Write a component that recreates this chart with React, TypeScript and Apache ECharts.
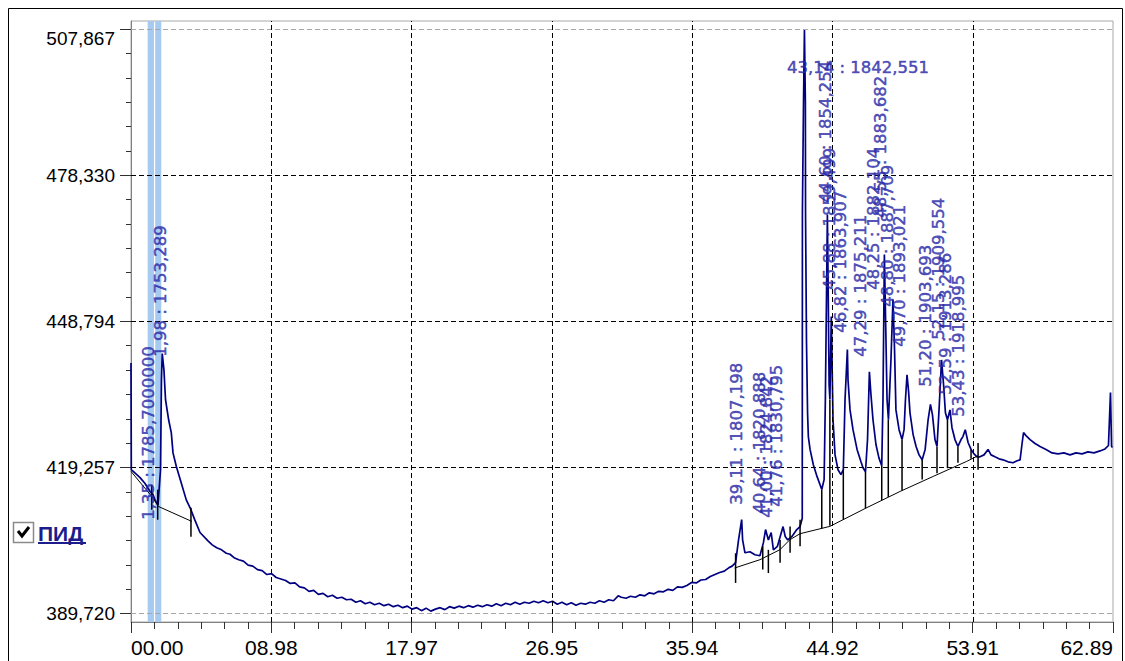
import React, { useEffect, useRef } from "react";
import * as echarts from "echarts";

// ---- axes ----
const xInterval = 8.9845;
const xMax = 62.8915;
const yMin = 388.0;
const yMax = 509.55;
const yMajorTicks = [389.72, 419.257, 448.794, 478.33, 507.867];
const yGridBlack = [419.257, 448.794, 478.33];
const yGridGray = [389.72, 507.867];
const xGridValues = [8.9845, 17.969, 26.9535, 35.938, 44.9225, 53.907];

// ---- highlighted bands (min) ----
const bandStart = [1.07, 1.55];
const bandEnd = [1.47, 1.94];

// ---- detector signal ----
const signalT = [
  0.0, 0.02, 0.3, 0.58, 0.9, 1.22, 1.4, 1.54, 1.73, 1.89, 1.95, 2.0, 2.11, 2.21, 2.41, 2.58, 2.69, 2.9, 3.22, 3.54, 3.8, 4.08, 4.42, 4.93, 5.2, 5.49,
  5.8, 6.1, 6.34, 6.6, 6.9, 7.2, 7.5, 7.8, 8.1, 8.4, 8.7, 9.0, 9.3, 9.6, 9.9, 10.2, 10.5, 10.8, 11.1, 11.4, 11.7, 12.0, 12.3, 12.6, 12.9, 13.2, 13.5,
  13.8, 14.1, 14.4, 14.7, 15.0, 15.3, 15.6, 15.9, 16.2, 16.5, 16.8, 17.1, 17.4, 17.7, 18.0, 18.3, 18.6, 18.9, 19.2, 19.5, 19.8, 20.1, 20.4, 20.7,
  21.0, 21.3, 21.6, 21.9, 22.2, 22.5, 22.8, 23.1, 23.4, 23.7, 24.0, 24.3, 24.6, 24.9, 25.2, 25.5, 25.8, 26.1, 26.4, 26.7, 27.0, 27.3, 27.6, 27.9,
  28.2, 28.5, 28.8, 29.1, 29.4, 29.7, 30.0, 30.3, 30.6, 30.9, 31.2, 31.4, 31.7, 32.0, 32.3, 32.6, 32.9, 33.2, 33.5, 33.8, 34.1, 34.4, 34.7, 35.0,
  35.3, 35.6, 35.9, 36.2, 36.5, 36.8, 37.1, 37.4, 37.7, 38.0, 38.3, 38.5, 38.72, 38.91, 39.11, 39.17, 39.32, 39.64, 39.96, 40.28, 40.5, 40.64,
  40.82, 41.0, 41.14, 41.4, 41.76, 41.9, 42.06, 42.33, 42.64, 42.85, 42.99, 43.0, 43.07, 43.13, 43.19, 43.2, 43.26, 43.33, 43.38, 43.49, 43.7,
  43.94, 44.24, 44.39, 44.47, 44.6, 44.66, 44.71, 44.76, 44.85, 44.96, 45.09, 45.28, 45.47, 45.62, 45.73, 45.88, 45.92, 46.05, 46.24, 46.5,
  46.75, 46.88, 47.04, 47.17, 47.29, 47.39, 47.52, 47.71, 47.9, 48.08, 48.16, 48.25, 48.34, 48.42, 48.51, 48.67, 48.8, 48.9, 48.99, 49.19,
  49.38, 49.51, 49.6, 49.7, 49.8, 49.89, 50.09, 50.28, 50.47, 50.67, 50.86, 51.05, 51.2, 51.33, 51.49, 51.62, 51.75, 51.91, 52.04, 52.16,
  52.29, 52.45, 52.58, 52.77, 52.96, 53.16, 53.28, 53.43, 53.61, 53.8, 53.99, 54.18, 54.37, 54.63, 54.89, 55.08, 55.33, 55.59, 55.85, 56.17,
  56.49, 56.75, 56.94, 57.06, 57.16, 57.32, 57.58, 57.9, 58.22, 58.6, 58.99, 59.37, 59.75, 60.14, 60.52, 60.91, 61.29, 61.67, 62.06, 62.38,
  62.6, 62.73, 62.8, 62.86,
];
const signalV = [
  440.4, 418.8, 418.0, 417.2, 416.0, 414.4, 413.8, 412.7, 411.7, 418.8, 437.0, 442.3, 439.0, 433.0, 428.9, 426.3, 422.2, 419.5, 416.1, 412.7, 411.0, 408.7, 406.1, 404.4, 403.6, 403.0,
  402.6, 401.9, 401.7, 401.0, 400.6, 400.3, 399.5, 399.3, 398.6, 398.4, 397.6, 397.8, 397.0, 396.7, 396.4, 395.8, 395.9, 395.1, 394.9, 394.2, 394.4, 393.6, 393.8, 393.1, 393.4, 392.8, 393.0,
  392.5, 392.6, 392.0, 392.3, 391.7, 392.0, 391.5, 391.8, 391.3, 391.6, 391.1, 391.4, 390.9, 391.2, 390.6, 390.9, 390.3, 390.8, 390.2, 390.6, 390.9, 390.5, 391.1, 390.8,
  391.2, 390.9, 391.3, 391.0, 391.4, 391.1, 391.5, 391.2, 391.7, 391.3, 391.8, 391.5, 392.0, 391.6, 392.0, 391.8, 392.2, 391.9, 392.3, 391.9, 392.2, 391.6, 392.0, 391.5,
  391.9, 391.4, 391.8, 391.6, 392.0, 391.8, 392.3, 392.0, 392.5, 392.3, 393.3, 393.0, 392.8, 393.2, 393.0, 393.5, 393.3, 393.9, 393.7, 394.2, 394.1, 394.6, 394.4, 395.1,
  395.0, 395.4, 396.0, 395.9, 396.5, 396.6, 397.2, 397.6, 398.0, 398.3, 399.0, 399.3, 400.0, 404.6, 408.7, 404.6, 402.0, 402.2, 401.6, 401.4, 404.0, 406.7,
  404.6, 406.1, 402.6, 403.3, 407.3, 405.3, 404.6, 405.3, 406.7, 407.3, 409.0, 470.9, 493.0, 507.867, 493.0, 470.9, 445.0, 430.3, 425.5, 422.9, 419.8,
  417.4, 414.8, 416.8, 433.0, 470.4, 452.0, 436.0, 433.0, 449.8, 428.9, 421.8, 418.8, 417.8, 418.8, 433.0, 443.1, 437.0, 430.9, 426.9, 422.9,
  420.4, 419.2, 418.4, 424.9, 438.6, 434.0, 428.9, 423.9, 421.2, 419.6, 433.0, 462.3, 447.1, 433.0, 428.9, 441.0, 453.2, 443.1, 430.9, 426.9,
  424.9, 426.9, 433.0, 438.0, 434.6, 430.3, 425.9, 423.5, 421.8, 420.8, 422.9, 428.9, 432.0, 429.9, 424.9, 423.5, 430.9, 441.0, 436.0, 430.3,
  428.9, 430.9, 427.3, 424.9, 423.5, 424.9, 425.5, 426.9, 424.3, 422.9, 422.0, 421.4, 421.4, 421.8, 422.9, 421.8, 421.4, 421.0, 420.8, 420.4,
  420.2, 420.6, 420.8, 423.9, 426.3, 425.7, 424.9, 424.1, 423.5, 422.9, 422.2, 422.0, 422.2, 421.8, 422.2, 422.0, 422.4, 422.2, 422.6, 423.0,
  423.7, 434.4, 423.5, 423.3,
];

// ---- integration baselines ----
const baseline1T = [0.0, 1.33, 1.75, 3.89];
const baseline1V = [418.46, 413.4, 411.38, 408.35];
const baseline2T = [38.66, 40.28, 41.56, 42.2, 42.85, 44.76, 47.12, 49.26, 51.38, 53.52, 54.25];
const baseline2V = [398.92, 400.6, 402.62, 404.65, 405.86, 407.34, 411.12, 414.41, 417.45, 420.48, 421.63];

// ---- peak boundary / drop lines ----
const dropT = [1.33, 1.71, 3.84, 38.72, 40.46, 40.82, 41.57, 42.21, 42.85, 44.24, 44.76, 45.62, 47.04, 48.08, 48.5, 49.38, 50.67, 51.62, 52.29, 52.96, 53.8, 54.25];
const dropLow = [410.71, 408.69, 405.25, 395.9, 398.6, 397.9, 400.0, 402.0, 403.3, 406.9, 407.48, 408.7, 411.0, 412.6, 413.3, 414.6, 416.8, 418.1, 419.1, 420.2, 421.0, 418.8];
const dropHigh = [415.77, 414.76, 411.12, 401.9, 403.3, 402.6, 404.6, 407.3, 408.7, 414.76, 432.96, 418.8, 418.4, 419.61, 428.9, 424.87, 420.82, 423.45, 428.91, 423.45, 422.85, 424.2];

// ---- peak labels ----
const peakLabelText = [
  "1,35 : 1785,7000000", "1,98 : 1753,289", "39,11 : 1807,198", "40,64 : 1820,888", "41,00 : 1824,842", "41,76 : 1830,795",
  "43,14 : 1842,551", "44,60 : 1854,254", "45,88 : 1859,499", "46,82 : 1863,907", "47,29 : 1875,211", "48,25 : 1882,104",
  "48,55 : 1883,682", "48,80 : 1887,709", "49,70 : 1893,021", "51,20 : 1903,693", "52,15 : 1909,554", "52,59 : 1913,286", "53,43 : 1918,995",
];
const peakLabelT = [1.15, 1.86, 38.75, 40.28, 40.67, 41.37, 42.01, 44.45, 44.71, 45.47, 46.75, 47.58, 48.03, 48.42, 49.24, 50.91, 51.69, 52.14, 52.97];
const peakLabelV = [408.69, 441.66, 411.72, 409.9, 409.09, 411.32, 500.1, 472.8, 455.2, 446.51, 441.66, 455.2, 469.77, 451.77, 443.68, 435.59, 445.09, 433.97, 429.52];
const peakLabelRotate = [90, 90, 90, 90, 90, 90, 0, 90, 90, 90, 90, 90, 90, 90, 90, 90, 90, 90, 90];

const axisFont = "'Liberation Sans', Arial, sans-serif";
const xAxisFont = "'Liberation Sans Narrow', 'Arial Narrow', 'Liberation Sans', sans-serif";

export default function App() {
  const ref = useRef<HTMLDivElement>(null);

  useEffect(() => {
    const chart = echarts.init(ref.current as HTMLDivElement, null, { renderer: "svg" });

    const yMinorTicks: number[] = [];
    for (let i = 0; i < yMajorTicks.length - 1; i++) {
      const step = (yMajorTicks[i + 1] - yMajorTicks[i]) / 6;
      for (let k = 1; k < 6; k++) yMinorTicks.push(yMajorTicks[i] + k * step);
    }

    const signalData = signalT.map((t, i) => [t, signalV[i]]);
    const base1 = baseline1T.map((t, i) => [t, baseline1V[i]]);
    const base2 = baseline2T.map((t, i) => [t, baseline2V[i]]);
    const dropData = dropT.map((t, i) => [t, dropLow[i], dropHigh[i]]);
    const labelData = peakLabelT.map((t, i) => ({
      value: [t, peakLabelV[i]],
      label: { rotate: peakLabelRotate[i] },
    }));

    const gridLineData: any[] = [
      ...yGridBlack.map((v) => ({ yAxis: v })),
      ...yGridGray.map((v) => ({ yAxis: v, lineStyle: { color: "#a8a8a8" } })),
      ...xGridValues.map((v) => ({ xAxis: v })),
    ];

    const option: any = {
      animation: false,
      backgroundColor: "#ffffff",
      grid: {
        left: 131,
        top: 21,
        right: 12,
        bottom: 39,
        show: true,
        borderColor: "#a8a8a8",
        borderWidth: 1,
        backgroundColor: "transparent",
        containLabel: false,
        outerBoundsMode: "none",
      },
      xAxis: {
        type: "value",
        min: 0,
        max: xMax,
        interval: xInterval,
        axisLine: { show: true, onZero: false, lineStyle: { color: "#808080", width: 1 } },
        axisTick: { show: true, length: 11, lineStyle: { color: "#303030", width: 1 } },
        minorTick: { show: true, splitNumber: 6, length: 7, lineStyle: { color: "#303030", width: 1 } },
        axisLabel: {
          show: true,
          margin: 15,
          color: "#000",
          fontSize: 21,
          fontFamily: xAxisFont,
          alignMinLabel: "left",
          alignMaxLabel: "right",
          formatter: (v: number) => {
            const s = v.toFixed(2);
            return s.length < 5 ? "0" + s : s;
          },
        },
        splitLine: { show: false },
        minorSplitLine: { show: false },
      },
      yAxis: [
        {
          type: "value",
          min: yMin,
          max: yMax,
          position: "left",
          axisLine: { show: true, onZero: false, lineStyle: { color: "#808080", width: 1 } },
          axisTick: { show: true, length: 11, customValues: yMajorTicks, lineStyle: { color: "#303030", width: 1 } },
          axisLabel: {
            show: true,
            customValues: yMajorTicks,
            margin: 16,
            color: "#000",
            fontSize: 19,
            fontFamily: axisFont,
            verticalAlignMaxLabel: "top",
            formatter: (v: number) => v.toFixed(3).replace(".", ","),
          },
          splitLine: { show: false },
        },
        {
          type: "value",
          min: yMin,
          max: yMax,
          position: "left",
          offset: 0,
          axisLine: { show: false },
          axisTick: { show: true, length: 5, customValues: yMinorTicks, lineStyle: { color: "#303030", width: 1 } },
          axisLabel: { show: false },
          splitLine: { show: false },
        },
      ],
      series: [
        {
          name: "helper",
          type: "line",
          data: [],
          z: 1,
          silent: true,
          markArea: {
            silent: true,
            itemStyle: { color: "#a6caf0", opacity: 1 },
            data: bandStart.map((s, i) => [{ xAxis: s }, { xAxis: bandEnd[i] }]),
          },
          markLine: {
            silent: true,
            symbol: ["none", "none"],
            label: { show: false },
            lineStyle: { type: [5, 3], color: "#000", width: 1 },
            emphasis: { disabled: true },
            data: gridLineData,
          },
        },
        {
          name: "signal",
          type: "line",
          data: signalData,
          showSymbol: false,
          symbol: "none",
          z: 3,
          silent: true,
          lineStyle: { color: "#000080", width: 1.7 },
        },
        {
          name: "baseline1",
          type: "line",
          data: base1,
          symbol: "none",
          z: 4,
          silent: true,
          lineStyle: { color: "#000", width: 1 },
        },
        {
          name: "baseline2",
          type: "line",
          data: base2,
          symbol: "none",
          z: 4,
          silent: true,
          lineStyle: { color: "#000", width: 1 },
        },
        {
          name: "drops",
          type: "custom",
          data: dropData,
          z: 4,
          silent: true,
          renderItem: (_params: any, api: any) => {
            const p1 = api.coord([api.value(0), api.value(1)]);
            const p2 = api.coord([api.value(0), api.value(2)]);
            return {
              type: "line",
              shape: { x1: p1[0], y1: p1[1], x2: p2[0], y2: p2[1] },
              style: { stroke: "#000", lineWidth: 1.5 },
            };
          },
        },
        {
          name: "labels",
          type: "scatter",
          data: labelData,
          symbol: "circle",
          symbolSize: 1,
          z: 5,
          silent: true,
          itemStyle: { color: "rgba(0,0,0,0)" },
          label: {
            show: true,
            position: "inside",
            align: "left",
            verticalAlign: "middle",
            color: "#2828a8",
            textBorderColor: "#2828a8",
            textBorderWidth: 0.5,
            fontSize: 16.5,
            fontFamily: "'DejaVu Sans', Verdana, sans-serif",
            formatter: (p: any) => peakLabelText[p.dataIndex],
          },
        },
      ],
      graphic: [
        {
          type: "rect",
          silent: true,
          shape: { x: 8.5, y: 8.5, width: 1114, height: 700 },
          style: { fill: "none", stroke: "#000", lineWidth: 1 },
        },
        {
          type: "rect",
          silent: true,
          shape: { x: 13.5, y: 522.5, width: 20, height: 20 },
          style: { fill: "#fff", stroke: "#8a8a8a", lineWidth: 1.5 },
        },
        {
          type: "polyline",
          silent: true,
          shape: { points: [[18, 531], [22, 536], [29, 527]] },
          style: { stroke: "#000", lineWidth: 3, fill: "none" },
        },
        {
          type: "text",
          silent: true,
          x: 38,
          y: 533,
          style: {
            text: "ПИД",
            fill: "#1c1c8c",
            font: "bold 21px 'Liberation Sans', Arial, sans-serif",
            verticalAlign: "middle",
            align: "left",
          },
        },
        {
          type: "line",
          silent: true,
          shape: { x1: 38, y1: 543, x2: 86, y2: 543 },
          style: { stroke: "#1c1c8c", lineWidth: 2 },
        },
      ],
    };

    chart.setOption(option);
    return () => chart.dispose();
  }, []);

  return (
    <div
      ref={ref}
      style={{ position: "absolute", left: 0, top: 0, width: 1125, height: 661, background: "#fff" }}
    />
  );
}
